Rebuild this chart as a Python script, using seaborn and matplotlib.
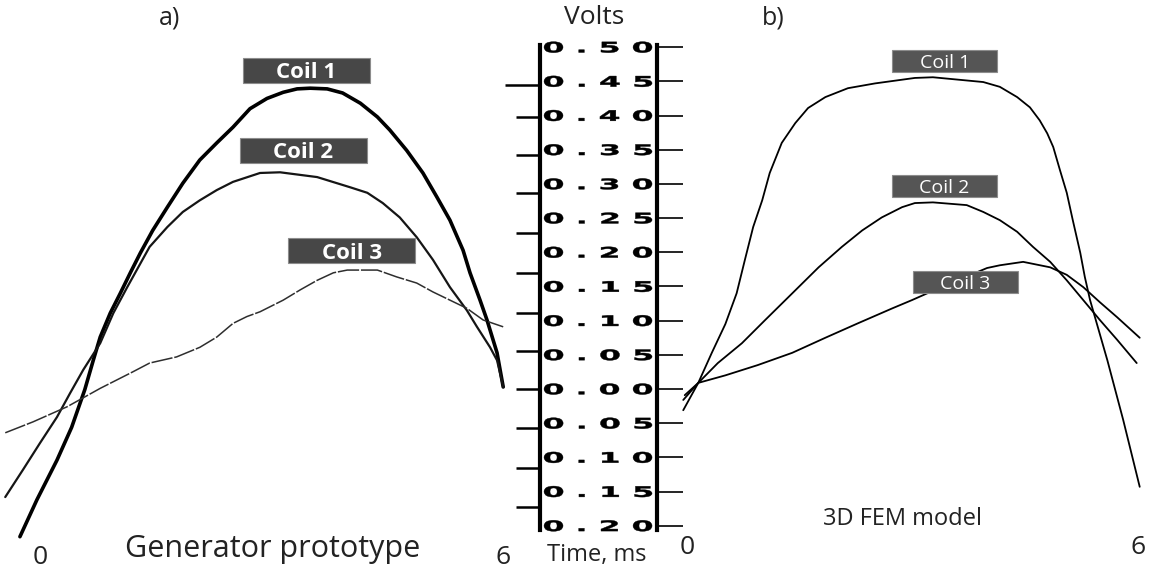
import numpy as np
import pandas as pd
import matplotlib
matplotlib.use("Agg")
import matplotlib.pyplot as plt
import matplotlib.transforms as mtrans
from matplotlib.textpath import TextPath
from matplotlib.patches import PathPatch, Rectangle
from matplotlib.font_manager import FontProperties
import seaborn as sns

# ---------------- data ----------------
coils = ["Coil 1", "Coil 2", "Coil 3"]

# a) generator prototype, oscilloscope traces (time in ms, volts)
proto_t1 = [-0.26, -0.04, 0.22, 0.41, 0.58, 0.69, 0.78, 0.91, 1.04, 1.17, 1.30, 1.46, 1.65,
            1.85, 2.07, 2.29, 2.50, 2.72, 2.94, 3.15, 3.33, 3.50, 3.72, 3.92, 4.15, 4.37,
            4.53, 4.75, 4.96, 5.14, 5.31, 5.48, 5.57, 5.70, 5.79, 5.92, 6.00]
proto_v1 = [-0.216, -0.162, -0.104, -0.056, -0.001, 0.042, 0.076, 0.111, 0.140, 0.170, 0.199,
            0.232, 0.266, 0.301, 0.335, 0.360, 0.383, 0.410, 0.425, 0.434, 0.439, 0.440, 0.439,
            0.433, 0.418, 0.398, 0.379, 0.349, 0.316, 0.281, 0.247, 0.203, 0.170, 0.130, 0.101,
            0.053, 0.003]
proto_t2 = [-0.45, -0.22, 0.00, 0.22, 0.39, 0.56, 0.78, 0.95, 1.13, 1.42, 1.65, 1.85, 2.07,
            2.29, 2.50, 2.85, 3.11, 3.59, 4.02, 4.24, 4.44, 4.66, 4.88, 5.09, 5.31, 5.53,
            5.66, 5.83, 5.92, 6.00]
proto_v2 = [-0.158, -0.118, -0.079, -0.041, -0.006, 0.028, 0.067, 0.111, 0.149, 0.208, 0.237,
            0.259, 0.276, 0.291, 0.303, 0.316, 0.317, 0.310, 0.295, 0.287, 0.272, 0.251, 0.222,
            0.189, 0.149, 0.115, 0.091, 0.061, 0.042, 0.003]
proto_t3 = [-0.45, -0.09, 0.35, 0.78, 1.20, 1.42, 1.77, 2.07, 2.29, 2.50, 2.68, 2.85, 3.15,
            3.37, 3.59, 3.80, 3.98, 4.37, 4.62, 4.88, 5.09, 5.31, 5.53, 5.74, 6.00]
proto_v3 = [-0.064, -0.048, -0.026, 0.001, 0.025, 0.038, 0.047, 0.061, 0.076, 0.096, 0.106,
            0.113, 0.130, 0.145, 0.159, 0.170, 0.174, 0.174, 0.164, 0.155, 0.142, 0.130, 0.118,
            0.101, 0.091]

# b) 3D FEM model (time in ms, volts)
fem_t1 = [-0.05, 0.15, 0.33, 0.51, 0.66, 0.77, 0.88, 1.00, 1.10, 1.26, 1.44, 1.61, 1.84,
          2.14, 2.50, 3.03, 3.27, 3.94, 4.16, 4.39, 4.56, 4.69, 4.79, 4.87, 4.96, 5.05,
          5.13, 5.23, 5.29, 5.36, 5.59, 5.80, 6.02]
fem_v1 = [-0.031, 0.009, 0.053, 0.095, 0.140, 0.189, 0.237, 0.276, 0.316, 0.360, 0.389, 0.411,
          0.427, 0.440, 0.447, 0.455, 0.456, 0.449, 0.442, 0.427, 0.412, 0.393, 0.374, 0.354,
          0.320, 0.287, 0.247, 0.199, 0.164, 0.130, 0.042, -0.045, -0.143]
fem_t2 = [-0.05, 0.15, 0.41, 0.73, 1.04, 1.40, 1.75, 2.06, 2.33, 2.59, 2.86, 3.03, 3.27,
          3.72, 3.94, 4.16, 4.39, 4.60, 4.83, 5.05, 5.27, 5.49, 5.72, 5.98]
fem_v2 = [-0.016, 0.009, 0.038, 0.067, 0.101, 0.140, 0.178, 0.208, 0.232, 0.251, 0.266, 0.272,
          0.273, 0.269, 0.259, 0.247, 0.230, 0.208, 0.186, 0.159, 0.130, 0.101, 0.072, 0.038]
fem_t3 = [-0.03, 0.15, 0.51, 0.94, 1.40, 1.84, 2.27, 2.73, 2.99, 3.36, 3.99, 4.16, 4.47,
          4.83, 5.05, 5.27, 5.49, 5.72, 6.02]
fem_v3 = [-0.009, 0.009, 0.020, 0.035, 0.053, 0.075, 0.096, 0.118, 0.130, 0.148, 0.177, 0.181,
          0.186, 0.178, 0.167, 0.149, 0.127, 0.105, 0.075]

# volt gauge between the panels
volt_levels = [0.50, 0.45, 0.40, 0.35, 0.30, 0.25, 0.20, 0.15, 0.10, 0.05, 0.00,
               -0.05, -0.10, -0.15, -0.20]
left_gauge = [0.398, 0.342, 0.287, 0.228, 0.170, 0.111, 0.056, 0.0, -0.057, -0.115, -0.173]
left_gauge_long = [0.444]
time_ticks = [0, 6]


def frame(ts, vs, names):
    parts = [pd.DataFrame({"time": t, "volts": v, "coil": n}) for t, v, n in zip(ts, vs, names)]
    return pd.concat(parts, ignore_index=True)


proto = frame([proto_t1, proto_t2, proto_t3], [proto_v1, proto_v2, proto_v3], coils)
fem = frame([fem_t1, fem_t2, fem_t3], [fem_v1, fem_v2, fem_v3], coils)

# ---------------- style ----------------
sns.set_theme(style="white")
plt.rcParams["font.family"] = ["Open Sans", "DejaVu Sans"]

W, H = 1154, 575
fig = plt.figure(figsize=(W / 100, H / 100), dpi=100)
fig.patch.set_facecolor("white")

VMIN, VMAX = -0.272, 0.569

ax_a = fig.add_axes([0, 0, 510 / W, 1])
ax_b = fig.add_axes([660 / W, 0, 494 / W, 1])
ax_s = fig.add_axes([540 / W, 0, 117 / W, 1])

# ---------------- panel a ----------------
sns.lineplot(data=proto, x="time", y="volts", hue="coil", size="coil", style="coil",
             palette={"Coil 1": "black", "Coil 2": "#151515", "Coil 3": "#2e2e2e"},
             sizes={"Coil 1": 2.6, "Coil 2": 1.6, "Coil 3": 1.1},
             dashes={"Coil 1": "", "Coil 2": "", "Coil 3": (14, 1.2)},
             sort=False, estimator=None, legend=False, ax=ax_a)
ax_a.set_xlim(-0.518, 6.088)
ax_a.set_ylim(VMIN, VMAX)
ax_a.axis("off")

# ---------------- panel b ----------------
sns.lineplot(data=fem, x="time", y="volts", hue="coil",
             palette={"Coil 1": "black", "Coil 2": "black", "Coil 3": "black"},
             linewidth=1.3, sort=False, estimator=None, legend=False, ax=ax_b)
ax_b.set_xlim(-0.359, 6.210)
ax_b.set_ylim(VMIN, VMAX)
ax_b.axis("off")


def coil_tag(ax, t, v, text, w, h, fs, weight, face):
    anchor = mtrans.ScaledTranslation(t, v, ax.transData)
    ax.add_patch(Rectangle((-w / 2, -h / 2), w, h, transform=anchor, facecolor=face,
                           edgecolor="#8c8c8c", linewidth=0.8, zorder=5, clip_on=False))
    ax.text(t, v, text, ha="center", va="center_baseline", color="white", fontsize=fs,
            fontweight=weight, zorder=6)


for (t, v), name in zip([(3.45, 0.466), (3.41, 0.349), (4.04, 0.202)], coils):
    coil_tag(ax_a, t, v, name, 127, 25, 16, "bold", "#474747")
for (t, v), name in zip([(3.43, 0.480), (3.42, 0.297), (3.70, 0.156)], coils):
    coil_tag(ax_b, t, v, name, 105, 22, 14, "normal", "#555555")

for ax, ypos in ((ax_a, 0.03), (ax_b, 0.047)):
    lab_tr = mtrans.blended_transform_factory(ax.transData, ax.transAxes)
    for tk in time_ticks:
        ax.text(tk, ypos, str(tk), transform=lab_tr, ha="center", va="center",
                fontsize=19, color="#222222")

# ---------------- volt gauge ----------------
ax_s.set_xlim(0, 1)
ax_s.set_ylim(VMIN, VMAX)
ax_s.set_xticks([])
ax_s.patch.set_alpha(0)
for side in ("top", "bottom"):
    ax_s.spines[side].set_visible(False)
for side in ("left", "right"):
    sp = ax_s.spines[side]
    sp.set_visible(True)
    sp.set_color("black")
    sp.set_linewidth(3.0)
    sp.set_bounds(-0.206, 0.503)
ax_s.set_yticks(left_gauge)
ax_s.set_yticks(left_gauge_long, minor=True)
ax_s.tick_params(axis="y", which="major", left=True, right=False, direction="out",
                 length=17, width=1.8, color="black", labelleft=False)
ax_s.tick_params(axis="y", which="minor", left=True, right=False, direction="out",
                 length=25, width=1.8, color="black", labelleft=False)

ax_r = ax_s.twinx()
ax_r.set_ylim(VMIN, VMAX)
ax_r.set_yticks(volt_levels)
ax_r.tick_params(axis="y", which="major", right=True, left=False, direction="out",
                 length=19, width=1.2, color="black", labelright=False)
for sp in ax_r.spines.values():
    sp.set_visible(False)

digit_font = FontProperties(family="DejaVu Sans", weight="bold")
gauge_tr = mtrans.blended_transform_factory(ax_s.transAxes, ax_s.transData)
for v in volt_levels:
    s = " ".join(f"{abs(v):.2f}")
    tp = TextPath((0, 0), s, size=1, prop=digit_font)
    bb = tp.get_extents()
    sx = 108 / bb.width
    sy = 11 / bb.height
    tr = (mtrans.Affine2D().translate(-(bb.x0 + bb.x1) / 2, -(bb.y0 + bb.y1) / 2).scale(sx, sy)
          + mtrans.ScaledTranslation(0.496, v, gauge_tr))
    fig.add_artist(PathPatch(tp, transform=tr, facecolor="black", edgecolor="black",
                             linewidth=0.3))

# ---------------- captions ----------------
def px_text(x, y, s, fs, **kw):
    fig.text(x / W, 1 - y / H, s, ha="center", va="center", fontsize=fs, color="#222222", **kw)


px_text(170, 18, "a)", 18)
px_text(773, 18, "b)", 18)
px_text(594, 17, "Volts", 19)
px_text(273, 549, "Generator prototype", 22)
px_text(903, 519, "3D FEM model", 17)
px_text(597, 555, "Time, ms", 17)

fig.savefig("out.png", dpi=100, facecolor="white")
